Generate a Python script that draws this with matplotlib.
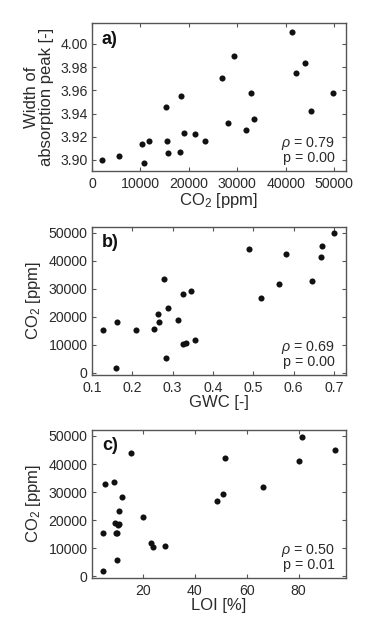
import matplotlib
matplotlib.use("Agg")
import matplotlib.pyplot as plt

plt.rcParams['font.family'] = ['Liberation Sans', 'DejaVu Sans']
plt.rcParams['mathtext.fontset'] = 'custom'
plt.rcParams['mathtext.rm'] = 'Liberation Sans'
plt.rcParams['mathtext.it'] = 'Liberation Sans:italic'

# Panel a: CO2 vs width of absorption peak
co2_a = [2000, 5650, 10350, 10750, 11850, 15300, 15450, 15700, 18150, 18350,
         18950, 21300, 23400, 26950, 28100, 29300, 31750, 32900, 33550,
         41250, 42200, 44000, 45250, 49850]
width_a = [3.900, 3.903, 3.914, 3.897, 3.916, 3.946, 3.916, 3.906, 3.907, 3.955,
           3.923, 3.922, 3.916, 3.971, 3.932, 3.990, 3.926, 3.958, 3.935,
           4.010, 3.975, 3.984, 3.942, 3.958]

# Panel b: GWC vs CO2
gwc_b = [0.159, 0.283, 0.325, 0.334, 0.355, 0.128, 0.210, 0.254, 0.266, 0.162,
         0.314, 0.263, 0.289, 0.518, 0.325, 0.345, 0.564, 0.645, 0.278,
         0.669, 0.582, 0.490, 0.671, 0.700]
co2_b = [1800, 5400, 10100, 10500, 11700, 15100, 15200, 15500, 18000, 18200,
         18800, 21100, 23200, 26800, 28000, 29200, 31700, 32900, 33500,
         41300, 42200, 44000, 45200, 50000]

# Panel c: LOI vs CO2
loi_c = [4.6, 10.0, 24.0, 28.7, 23.2, 4.6, 9.7, 9.9, 10.5, 9.3,
         10.8, 20.0, 10.9, 48.5, 11.8, 51.0, 66.5, 5.6, 8.9,
         80.1, 51.5, 15.4, 93.9, 81.4]
co2_c = [2000, 5700, 10400, 10800, 11900, 15400, 15400, 15500, 18400, 18900,
         18500, 21200, 23300, 26900, 28100, 29300, 31700, 32900, 33500,
         41200, 42300, 44000, 45100, 49800]

stats = [("0.79", "0.00"), ("0.69", "0.00"), ("0.50", "0.01")]
panel_labels = ["a)", "b)", "c)"]

W, H = 387, 622
fig = plt.figure(figsize=(W / 100, H / 100), dpi=100)

def ax_rect(left, right, top, bottom):
    return [left / W, 1 - bottom / H, (right - left) / W, (bottom - top) / H]

txt_col = '#2a2a2a'
spine_col = '#555555'

axa = fig.add_axes(ax_rect(91.7, 346, 23.3, 171))
axb = fig.add_axes(ax_rect(91.7, 346, 226.7, 374.5))
axc = fig.add_axes(ax_rect(91.7, 346, 429.5, 577.5))

axa.plot(co2_a, width_a, 'o', color='#111111', ms=4.4, mec='none')
axb.plot(gwc_b, co2_b, 'o', color='#111111', ms=4.4, mec='none')
axc.plot(loi_c, co2_c, 'o', color='#111111', ms=4.4, mec='none')

axa.set_xlim(-60, 52480)
axa.set_ylim(3.8905, 4.0178)
axa.set_xticks([0, 10000, 20000, 30000, 40000, 50000])
axa.set_yticks([3.90, 3.92, 3.94, 3.96, 3.98, 4.00])
axa.set_yticklabels(["3.90", "3.92", "3.94", "3.96", "3.98", "4.00"])

axb.set_xlim(0.0993, 0.730)
axb.set_ylim(-640, 52100)
axb.set_xticks([0.1, 0.2, 0.3, 0.4, 0.5, 0.6, 0.7])
axb.set_yticks([0, 10000, 20000, 30000, 40000, 50000])

axc.set_xlim(0.3, 98.3)
axc.set_ylim(-400, 52300)
axc.set_xticks([20, 40, 60, 80])
axc.set_yticks([0, 10000, 20000, 30000, 40000, 50000])

lab_fs = 12
axa.set_xlabel("CO$_2$ [ppm]", fontsize=lab_fs, color=txt_col, labelpad=0)
axa.set_ylabel("Width of\nabsorption peak [-]", fontsize=lab_fs, color=txt_col,
               linespacing=1.0)
axb.set_xlabel("GWC [-]", fontsize=lab_fs, color=txt_col, labelpad=0)
axb.set_ylabel("CO$_2$ [ppm]", fontsize=lab_fs, color=txt_col)
axc.set_xlabel("LOI [%]", fontsize=lab_fs, color=txt_col, labelpad=0)
axc.set_ylabel("CO$_2$ [ppm]", fontsize=lab_fs, color=txt_col)

axa.yaxis.set_label_coords(-0.15, 0.5)
axb.yaxis.set_label_coords(-0.19, 0.5)
axc.yaxis.set_label_coords(-0.19, 0.5)

for ax, (rho, p), lab in zip([axa, axb, axc], stats, panel_labels):
    ax.tick_params(direction='in', top=True, right=True, length=3, width=0.8,
                   labelsize=10.2, colors=spine_col, labelcolor=txt_col)
    ax.tick_params(axis='x', pad=4.5)
    ax.tick_params(axis='y', pad=3)
    for s in ax.spines.values():
        s.set_color(spine_col)
        s.set_linewidth(1.0)
    ax.text(0.04, 0.95, lab, transform=ax.transAxes, ha='left', va='top',
            fontsize=13, fontweight='bold', color='#111111')
    ax.text(0.955, 0.185, r"$\rho$ = " + rho, transform=ax.transAxes,
            ha='right', va='center', fontsize=10.3, color=txt_col)
    ax.text(0.955, 0.085, "p = " + p, transform=ax.transAxes,
            ha='right', va='center', fontsize=10.3, color=txt_col)

fig.savefig("out.png", dpi=100)
